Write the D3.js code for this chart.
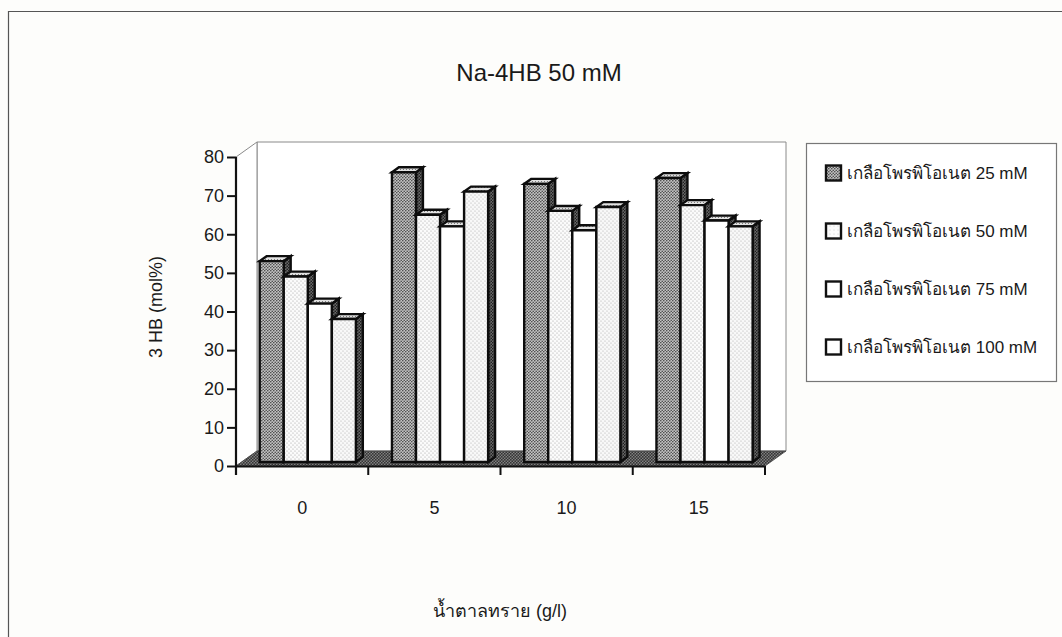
<!DOCTYPE html>
<html>
<head>
<meta charset="utf-8">
<script src="https://cdn.jsdelivr.net/npm/d3@7"></script>
<style>
  html, body { margin: 0; padding: 0; background: #fdfdfb; }
  svg { display: block; }
  text { font-family: Arial, "Liberation Sans", "Noto Sans", sans-serif; fill: #1a1a1a; }
</style>
</head>
<body>
<svg id="chart" width="1062" height="637"></svg>
<script>
// Sugar concentration groups (g/l)
const categories = ["0", "5", "10", "15"];
// Sodium propionate series
const seriesKeys = ["p25", "p50", "p75", "p100"];
const seriesLabels = [
  "เกลือโพรพิโอเนต 25 mM",
  "เกลือโพรพิโอเนต 50 mM",
  "เกลือโพรพิโอเนต 75 mM",
  "เกลือโพรพิโอเนต 100 mM"
];
// 3HB content (mol%) per sugar level
const values25  = [52, 75, 72, 73.5];
const values50  = [48, 64, 65, 66.5];
const values75  = [41, 61, 60, 62.5];
const values100 = [37, 70, 66, 61];
const yTicks = [0, 10, 20, 30, 40, 50, 60, 70, 80];

const titleText = "Na-4HB 50 mM";
const yTitle = "3 HB (mol%)";
const xTitle = "น้ำตาลทราย (g/l)";

const seriesValues = [values25, values50, values75, values100];

const svg = d3.select("#chart");

// ---- fill textures ----
const defs = svg.append("defs");
function dotPattern(id, size, bg, dots, r, color) {
  const p = defs.append("pattern").attr("id", id)
    .attr("patternUnits", "userSpaceOnUse").attr("width", size).attr("height", size);
  p.append("rect").attr("width", size).attr("height", size).attr("fill", bg);
  dots.forEach(([cx, cy]) => p.append("circle").attr("cx", cx).attr("cy", cy).attr("r", r).attr("fill", color));
}
dotPattern("fill-p25", 3, "#c4c4c4", [[0.75, 0.75], [2.25, 2.25]], 0.8, "#4a4a4a");
dotPattern("fill-p50", 4, "#fbfbfb", [[1, 1], [3, 3]], 0.6, "#a0a0a0");
dotPattern("fill-p75", 6, "#ffffff", [], 0, "#fff");
dotPattern("fill-p100", 4, "#f8f8f8", [[1, 1], [3, 3]], 0.6, "#aaaaaa");
dotPattern("fill-side", 3, "#6a6a6a", [[0.75, 0.75], [2.25, 2.25]], 0.85, "#1e1e1e");
dotPattern("fill-top", 3, "#e2e2e2", [[1.5, 1.5]], 0.6, "#6a6a6a");
dotPattern("fill-floor", 3, "#808080", [[0.75, 0.75], [2.25, 2.25]], 0.9, "#333333");
dotPattern("swatch-p50", 4, "#fbfbfb", [[2, 2]], 0.5, "#c0c0c0");

// ---- scales ----
const x0 = d3.scaleBand().domain(categories).range([236, 765]);
const x1 = d3.scaleBand().domain(seriesKeys).range([0, x0.bandwidth()])
  .paddingInner(0).paddingOuter(0.75);
const y = d3.scaleLinear().domain([0, 80]).range([466, 157]);

// oblique depth projection of the floor/wall box
const depth = { dx: 21, dy: -15 };
const tFront = 0.27, tBack = 0.6;
const proj = (px, v, t) => [px + depth.dx * t, y(v) + depth.dy * t];
const poly = pts => "M" + pts.map(p => p.join(",")).join("L") + "Z";

// ---- outer frame ----
svg.append("path").attr("d", "M8.5,640 L8.5,11.5 L1062,11.5")
  .attr("fill", "none").attr("stroke", "#555").attr("stroke-width", 1.2);

// ---- walls ----
const xL = x0.range()[0], xR = x0.range()[1];
const [ymin, ymax] = y.domain();
svg.append("path")
  .attr("d", poly([proj(xL, ymin, 1), proj(xL, ymax, 1), proj(xR, ymax, 1), proj(xR, ymin, 1)]))
  .attr("fill", "#ffffff").attr("stroke", "#8a8a8a").attr("stroke-width", 1);
svg.append("path")
  .attr("d", poly([proj(xL, ymin, 0), proj(xL, ymax, 0), proj(xL, ymax, 1), proj(xL, ymin, 1)]))
  .attr("fill", "#ffffff").attr("stroke", "#8a8a8a").attr("stroke-width", 1);

// ---- floor ----
svg.append("path")
  .attr("d", poly([proj(xL, 0, 0), proj(xR, 0, 0), proj(xR, 0, 1), proj(xL, 0, 1)]))
  .attr("fill", "url(#fill-floor)").attr("stroke", "#444").attr("stroke-width", 0.8);

// ---- bars ----
const barG = svg.append("g");
categories.forEach((cat, ci) => {
  seriesKeys.forEach((key, si) => {
    const v = seriesValues[si][ci];
    const a = x0(cat) + x1(key);
    const b = a + x1.bandwidth();
    const g = barG.append("g");
    const common = s => s.attr("stroke", "#0d0d0d").attr("stroke-width", 2.4).attr("stroke-linejoin", "miter");
    g.append("path")
      .attr("d", poly([proj(b, 0, tFront), proj(b, 0, tBack), proj(b, v, tBack), proj(b, v, tFront)]))
      .attr("fill", "url(#fill-side)").call(common);
    g.append("path")
      .attr("d", poly([proj(a, v, tFront), proj(b, v, tFront), proj(b, v, tBack), proj(a, v, tBack)]))
      .attr("fill", "url(#fill-top)").call(common);
    g.append("path")
      .attr("d", poly([proj(a, 0, tFront), proj(b, 0, tFront), proj(b, v, tFront), proj(a, v, tFront)]))
      .attr("fill", `url(#fill-${key})`).call(common);
  });
});

// ---- axes ----
const yAxis = svg.append("g").attr("transform", `translate(${xL},0)`)
  .call(d3.axisLeft(y).tickValues(yTicks).tickSize(9).tickSizeOuter(0).tickPadding(3));
yAxis.select(".domain").attr("stroke", "#111").attr("stroke-width", 2.2)
  .attr("d", `M0,${y(80)}V${y(0) + 9}`);
yAxis.selectAll(".tick line").attr("stroke", "#111").attr("stroke-width", 2);
yAxis.selectAll(".tick text").attr("font-size", 18).attr("fill", "#1a1a1a")
  .attr("font-family", "Arial, 'Liberation Sans', sans-serif");

const xAxis = svg.append("g").attr("transform", `translate(0,${y(0)})`)
  .call(d3.axisBottom(x0).tickSize(0).tickPadding(35));
xAxis.select(".domain").attr("stroke", "#111").attr("stroke-width", 2.2);
xAxis.selectAll(".tick text").attr("font-size", 18).attr("fill", "#1a1a1a")
  .attr("font-family", "Arial, 'Liberation Sans', sans-serif");
// boundary ticks between sugar groups
const bounds = categories.map(c => x0(c) + x0.bandwidth());
xAxis.selectAll(".bound").data(bounds).join("line").attr("class", "bound")
  .attr("x1", d => d).attr("x2", d => d).attr("y1", 0).attr("y2", 9)
  .attr("stroke", "#111").attr("stroke-width", 2);

// ---- titles ----
svg.append("text").attr("x", 539).attr("y", 81).attr("text-anchor", "middle")
  .attr("font-size", 24).text(titleText);
svg.append("text").attr("transform", "translate(162,307) rotate(-90)")
  .attr("text-anchor", "middle").attr("font-size", 18).text(yTitle);
svg.append("text").attr("x", 500).attr("y", 617).attr("text-anchor", "middle")
  .attr("font-size", 18).text(xTitle);

// ---- legend ----
const legend = svg.append("g");
legend.append("rect").attr("x", 806.5).attr("y", 143.5).attr("width", 250).attr("height", 238)
  .attr("fill", "#ffffff").attr("stroke", "#777").attr("stroke-width", 1.2);
const rowY = d3.scalePoint().domain(seriesKeys).range([173, 347]);
const swatchFill = { p25: "url(#fill-p25)", p50: "url(#swatch-p50)", p75: "#fff", p100: "#fff" };
seriesKeys.forEach((key, i) => {
  const cy = rowY(key);
  legend.append("rect").attr("x", 826).attr("y", cy - 7.5).attr("width", 15).attr("height", 15)
    .attr("fill", swatchFill[key]).attr("stroke", "#111").attr("stroke-width", 2.4);
  legend.append("text").attr("x", 847).attr("y", cy).attr("dy", "0.35em")
    .attr("font-size", 17).text(seriesLabels[i]);
});
</script>
</body>
</html>
